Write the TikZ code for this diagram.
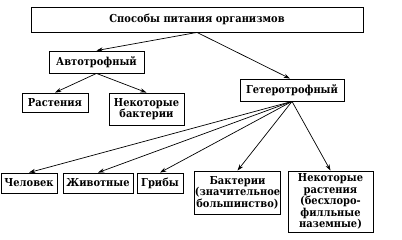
\documentclass[tikz,border=0pt]{standalone}
\usepackage{fontspec}
\setmainfont{DejaVu Serif Condensed}
\usetikzlibrary{arrows.meta}

\tikzset{
  box/.style={draw, line width=0.6pt, align=center, inner sep=0pt,
    font=\fontsize{7.8}{8.2}\selectfont\bfseries},
  link/.style={->, line width=0.5pt},
}

\begin{document}
\begin{tikzpicture}[x=0.025cm, y=-0.025cm, >={Stealth[length=4.5pt,width=3pt]}]

\useasboundingbox (0,0) rectangle (402,240);

% top
\node[box, minimum width=8.3cm, minimum height=0.625cm] (top) at (197,19.5)
  {Способы питания организмов};

% -------- autotrophs --------
\node[box, minimum width=2.375cm, minimum height=0.55cm] (auto) at (96.5,62) {Автотрофный};
\node[box, minimum width=1.65cm, minimum height=0.475cm] (plants) at (55,102.5) {Растения};
\node[box, minimum width=1.875cm, minimum height=0.8cm] (somebact) at (146.5,109)
  {Некоторые\\бактерии};

% -------- heterotrophs --------
\node[box, minimum width=2.6cm, minimum height=0.55cm] (hetero) at (292,90) {Гетеротрофный};
\node[box, minimum width=1.4cm, minimum height=0.5cm] (human) at (29,183) {Человек};
\node[box, minimum width=1.75cm, minimum height=0.5cm] (animals) at (98,183) {Животные};
\node[box, minimum width=1.15cm, minimum height=0.5cm] (fungi) at (160,183) {Грибы};
\node[box, minimum width=2.125cm, minimum height=1.075cm] (bact) at (237.5,192.5)
  {Бактерии\\(значительное\\большинство)};
\node[box, minimum width=2.125cm, minimum height=1.525cm] (someplants) at (330.5,201.5)
  {Некоторые\\растения\\(бесхлоро-\\филльные\\наземные)};

% arrows
\draw[link] (top.south) -- (auto.north);
\draw[link] (top.south) -- (hetero.100);
\draw[link] (auto.south) -- (plants.north);
\draw[link] (auto.south) -- (somebact.north);
\draw[link] (hetero.south) -- (human.north);
\draw[link] (hetero.south) -- (animals.north);
\draw[link] (hetero.south) -- (fungi.north);
\draw[link] (hetero.south) -- (bact.north);
\draw[link] (hetero.south) -- (someplants.north);

\end{tikzpicture}
\end{document}
